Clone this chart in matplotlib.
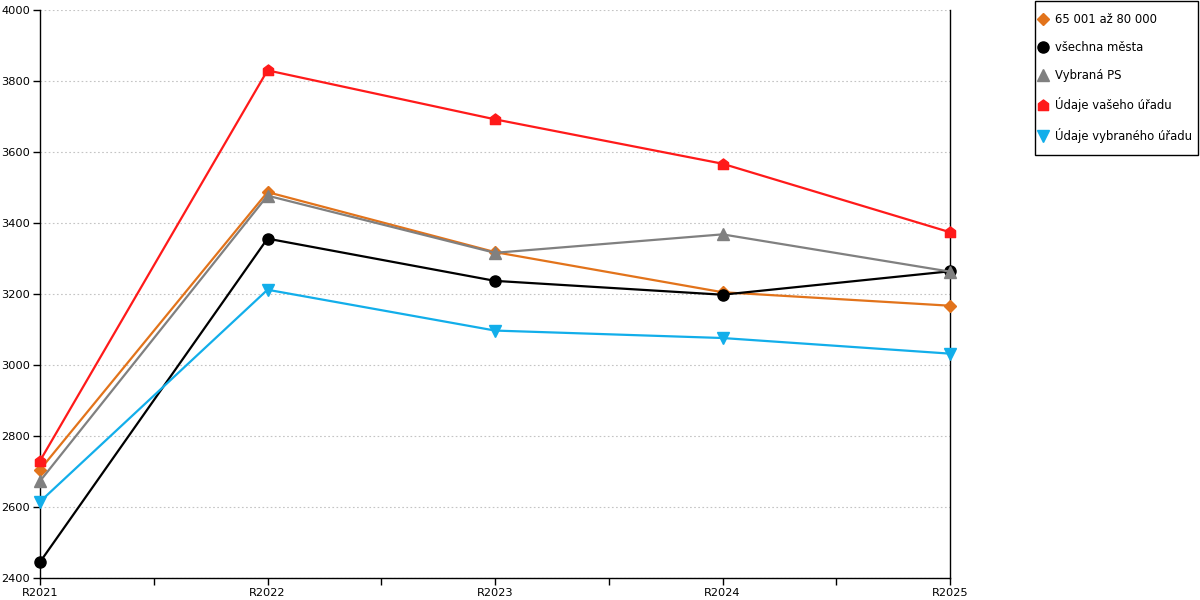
import numpy as np
import matplotlib
matplotlib.use("Agg")
import matplotlib.pyplot as plt
from matplotlib.path import Path
from matplotlib.patches import Rectangle
from matplotlib.ticker import MultipleLocator

plt.rcParams['font.family'] = ['DejaVu Sans']

years = ['R2021', 'R2022', 'R2023', 'R2024', 'R2025']
s_65_80 = [2705, 3487, 3318, 3205, 3167]
s_all = [2445, 3356, 3237, 3198, 3264]
s_ps = [2673, 3477, 3316, 3368, 3263]
s_own = [2730, 3830, 3692, 3567, 3374]
s_sel = [2615, 3212, 3097, 3076, 3032]

house = Path([(-1, -1), (1, -1), (1, 0.35), (0, 1.1), (-1, 0.35), (-1, -1)],
             [Path.MOVETO, Path.LINETO, Path.LINETO, Path.LINETO, Path.LINETO, Path.CLOSEPOLY])

series = [
    ('65 001 až 80 000', s_65_80, '#E2731B', 'D', 6),
    ('všechna města', s_all, '#000000', 'o', 8),
    ('Vybraná PS', s_ps, '#808080', '^', 8),
    ('Údaje vašeho úřadu', s_own, '#FF1A1A', house, 8),
    ('Údaje vybraného úřadu', s_sel, '#12AEEA', 'v', 8),
]

fig = plt.figure(figsize=(12, 6), dpi=100)
ax = fig.add_axes([40 / 1200, 22 / 600, 910 / 1200, 568 / 600])

x = np.arange(len(years))
handles = []
for label, vals, col, mk, ms in series:
    h, = ax.plot(x, vals, color=col, lw=1.6, marker=mk, markersize=ms,
                 markerfacecolor=col, markeredgecolor=col, label=label,
                 clip_on=False, zorder=3)
    handles.append(h)

ax.set_xlim(0, len(years) - 1)
ax.set_ylim(2400, 4000)
ax.yaxis.set_major_locator(MultipleLocator(200))
ax.set_xticks(x)
ax.set_xticklabels(years)
ax.set_xticks(np.arange(0.5, len(years) - 1, 1), minor=True)
ax.tick_params(axis='both', which='both', direction='out', length=5, width=1,
               labelsize=8.2, colors='black', pad=2)

ax.grid(axis='y', color='#C4C4C4', linestyle=(0, (1.5, 2.2)), linewidth=0.8)
ax.set_axisbelow(True)
ax.spines['top'].set_visible(False)
for s in ['left', 'bottom', 'right']:
    ax.spines[s].set_color('black')
    ax.spines[s].set_linewidth(1.0)

# legend frame drawn separately for exact placement
fig.patches.append(Rectangle((1035 / 1200, 1 - 155 / 600), 163 / 1200, 154 / 600,
                             transform=fig.transFigure, fill=False,
                             edgecolor='black', linewidth=1))
leg = fig.legend(handles=handles, loc='upper left', bbox_to_anchor=(1039 / 1200, 1 - 13 / 600),
                 fontsize=8.4, handlelength=0.6, handletextpad=0.75, labelspacing=1.3,
                 borderpad=0, frameon=False, borderaxespad=0)
for lh in leg.get_lines():
    lh.set_linestyle('none')

fig.savefig('out.png', dpi=100)
